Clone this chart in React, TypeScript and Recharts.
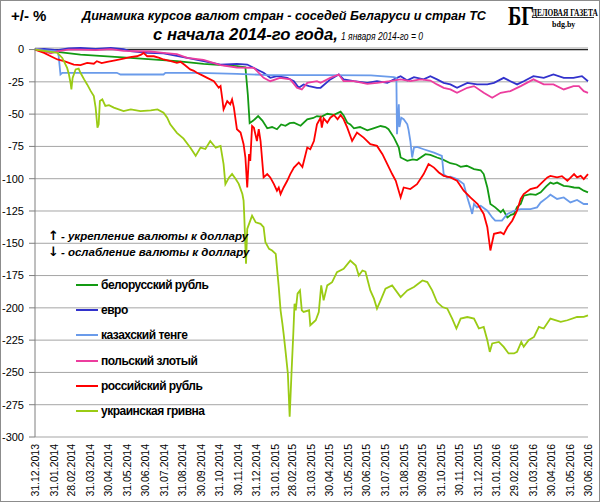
import { LineChart, Line, XAxis, YAxis, CartesianGrid, ReferenceLine, Legend } from 'recharts';

// [days since 31.12.2013, change in % vs 1 Jan 2014]
type Pt = [number, number];

const dateLabels = [
  '31.12.2013', '31.01.2014', '28.02.2014', '31.03.2014', '30.04.2014', '31.05.2014',
  '30.06.2014', '31.07.2014', '31.08.2014', '30.09.2014', '31.10.2014', '30.11.2014',
  '31.12.2014', '31.01.2015', '28.02.2015', '31.03.2015', '30.04.2015', '31.05.2015',
  '30.06.2015', '31.07.2015', '31.08.2015', '30.09.2015', '31.10.2015', '30.11.2015',
  '31.12.2015', '31.01.2016', '29.02.2016', '31.03.2016', '30.04.2016', '31.05.2016',
  '30.06.2016',
];

const yTicks = [0, -25, -50, -75, -100, -125, -150, -175, -200, -225, -250, -275, -300];

const belarusRub: Pt[] = [
  [0, 0], [26, -1.3], [75, -3.9], [157, -6.5], [234, -9], [278, -11.1], [333, -12.9], [347, -13.7],
  [351, -35], [354, -57], [360, -55], [368, -51.5], [375, -55], [383, -61], [391, -60], [399, -61.7],
  [406, -58], [413, -59], [420, -57], [427, -56.6], [438, -59], [449, -54], [459, -53], [465, -51.5],
  [472, -52], [482, -49.7], [493, -50.5], [504, -48.1], [509, -51], [515, -56.6], [520, -58], [526, -61],
  [536, -60], [548, -62.5], [558, -61], [570, -59.2], [578, -60], [583, -61.7], [592, -68.2], [600, -75.9],
  [603, -83.6], [614, -86.2], [623, -85], [630, -85.6], [644, -81], [652, -81.5], [663, -83.6], [672, -85],
  [685, -88], [695, -89], [702, -90.8], [712, -90], [724, -92.6], [735, -93.5], [740, -96.4], [746, -106.8],
  [751, -119.6], [759, -122.2], [768, -126], [772, -124], [779, -130], [785, -128], [790, -127.3], [795, -122],
  [801, -119.6], [806, -113.2], [817, -111.9], [826, -112.5], [834, -110.6], [843, -106], [850, -103],
  [855, -104], [861, -103], [872, -105.5], [880, -106], [889, -106.8], [897, -107], [905, -109.3], [912, -110.6],
];

const euro: Pt[] = [
  [0, 0], [15, 0.5], [37, -0.5], [55, 0.8], [75, 1.2], [100, 0.5], [125, 1.2], [146, 0.3], [157, -1.3],
  [185, -2.5], [212, -3], [223, -3.9], [251, -6.5], [278, -9], [306, -11.6], [333, -11.1], [350, -11.6],
  [366, -15.4], [377, -18], [388, -21.9], [399, -20.6], [416, -21.9], [427, -24.5], [435, -29.6], [443, -27],
  [452, -28.3], [465, -29.6], [471, -29.6], [487, -23.1], [501, -19.3], [509, -23.1], [526, -24.5],
  [548, -25.8], [564, -24.5], [581, -25.8], [597, -21.9], [603, -20.6], [614, -23.9], [625, -21.4],
  [641, -23.1], [652, -20.6], [663, -23.1], [674, -25.8], [685, -27], [696, -29.6], [713, -25.8],
  [729, -27], [746, -27], [757, -25.8], [773, -21.9], [784, -24.5], [795, -27], [806, -24.5], [822, -20.6],
  [839, -21.9], [855, -19.3], [872, -21.9], [888, -21.9], [902, -20.6], [912, -24.5],
];

const tenge: Pt[] = [
  [0, 0], [37, -1.3], [39, -5], [42, -19.3], [45, -18], [80, -18], [135, -18], [141, -19.3], [212, -19.3],
  [215, -18], [270, -18], [333, -18.8], [388, -19.8], [471, -19.8], [554, -20], [592, -21.4], [596, -22],
  [597, -65.6], [600, -42.4], [601, -60], [604, -52.8], [608, -54], [614, -57.9], [616, -62], [619, -70.8],
  [622, -83.6], [625, -75.9], [630, -75.4], [641, -77.2], [658, -79.8], [671, -82.3], [674, -96.4],
  [680, -99], [685, -98.5], [696, -100.3], [707, -104.2], [713, -114.5], [718, -122.2], [721, -127.3],
  [724, -119.6], [729, -122.2], [735, -121], [746, -124.8], [754, -130], [759, -132.5], [770, -132.5],
  [779, -127.3], [790, -124.8], [801, -123.5], [817, -123.5], [828, -122.2], [834, -118.4], [845, -114.5],
  [850, -112.4], [861, -115.7], [872, -114.5], [883, -118.4], [894, -116.5], [905, -119.6], [912, -119.6],
];

const zloty: Pt[] = [
  [0, 0], [15, -1.5], [26, -3], [37, -1.5], [55, 0], [75, 0], [100, -0.5], [125, 0.3], [146, -1],
  [168, -1.3], [190, -1.5], [212, -2.5], [234, -3.5], [251, -6.5], [278, -8], [306, -12.1], [333, -13.9],
  [361, -14.2], [377, -21.9], [388, -24.5], [404, -21.9], [421, -23.1], [432, -29.6], [440, -30.9],
  [449, -25.8], [465, -24.5], [471, -25.8], [487, -21.9], [501, -19.3], [509, -24.5], [526, -24.5],
  [548, -26.5], [564, -25.8], [586, -24.5], [603, -23.1], [619, -24.5], [636, -23.1], [652, -24],
  [663, -27], [674, -29.6], [685, -30.9], [696, -33.5], [713, -29.6], [724, -28.3], [740, -33.5],
  [754, -37.3], [768, -33.5], [784, -32.2], [801, -28.3], [822, -23.1], [839, -27], [855, -27],
  [872, -30.9], [888, -28.3], [897, -28.3], [905, -32.2], [912, -33.5],
];

const russRub: Pt[] = [
  [0, 0], [15, -2.6], [26, -5.2], [37, -7.7], [48, -9], [64, -11.6], [75, -12.1], [86, -10.3], [97, -11],
  [102, -9], [110, -10.5], [119, -9.5], [130, -8.5], [146, -7], [157, -5.9], [168, -5.2], [175, -4],
  [179, -2.6], [185, -5.2], [196, -5.2], [205, -6.5], [212, -7.7], [224, -9], [234, -10.3], [240, -9.5],
  [247, -12], [256, -15.4], [262, -16.5], [267, -18], [276, -20], [284, -21.9], [295, -24.5], [303, -29.6],
  [306, -28.3], [309, -38.6], [311, -46.3], [317, -39.9], [322, -42.4], [325, -38.6], [328, -45],
  [333, -61.7], [339, -64.3], [344, -73.3], [347, -83.6], [350, -106.8], [353, -81], [355, -86.2],
  [358, -59.2], [361, -60.5], [366, -70.8], [369, -61.7], [372, -70.8], [377, -99], [383, -96.4],
  [388, -99], [394, -104.2], [399, -109.3], [402, -106.8], [405, -111.9], [410, -106.8], [416, -101.6],
  [421, -96.4], [427, -91.4], [435, -87.5], [441, -91], [449, -75.9], [454, -77.2], [460, -70.8],
  [465, -57.9], [471, -52.8], [473, -60.5], [476, -53.2], [482, -56.6], [487, -52.8], [493, -50.7],
  [499, -54], [504, -50.7], [509, -54], [515, -60.5], [523, -70.8], [531, -64.3], [542, -68.2],
  [553, -73.3], [564, -74.6], [573, -81], [581, -88.7], [589, -96.4], [595, -101.6], [603, -114.5],
  [608, -106.8], [619, -108], [630, -104.2], [641, -96.4], [649, -88.7], [658, -91.4], [666, -95.2],
  [674, -97.8], [685, -99], [696, -101.6], [707, -109.3], [718, -114.5], [730, -119.6], [740, -127.3],
  [746, -137.6], [751, -155.6], [757, -142.7], [768, -141.5], [773, -143], [779, -137.6], [787, -132.5],
  [795, -124.8], [801, -115.7], [806, -111.9], [817, -108], [828, -106.8], [836, -103], [845, -99],
  [850, -97.8], [861, -99], [869, -98], [878, -101.6], [889, -96.4], [894, -99], [900, -97.8],
  [905, -100.3], [912, -96.4],
];

const hryvnia: Pt[] = [
  [0, 0], [37, -2.6], [45, -6.5], [53, -14.2], [56, -19.3], [59, -27], [60, -30.9], [62, -21.9], [67, -15.4],
  [72, -14.7], [75, -18], [81, -23.1], [86, -27], [92, -32.2], [97, -36], [100, -45], [103, -60.5],
  [105, -57.9], [107, -39.9], [111, -38.6], [116, -43.7], [122, -43], [130, -45], [146, -47.6],
  [158, -46.3], [174, -47.6], [191, -47.1], [202, -46.3], [212, -48.9], [218, -52.8], [223, -57.9],
  [234, -64.5], [245, -69], [256, -75.9], [265, -82.3], [273, -75.9], [281, -77], [289, -70.8], [298, -76],
  [306, -74.6], [311, -88.7], [314, -104.2], [320, -99], [325, -96.4], [331, -100.3], [336, -104],
  [342, -111.9], [344, -117], [345, -127.3], [348, -165.9], [350, -138.9], [355, -132.5], [358, -128.6],
  [364, -133.8], [372, -135], [377, -137.6], [380, -149.2], [386, -154.3], [391, -155.6], [397, -158.2],
  [399, -168.5], [402, -183.9], [405, -201.9], [408, -212.2], [410, -219.9], [413, -232.8], [417, -250.8],
  [420, -284.3], [423, -250.8], [426, -219.9], [428, -196.8], [430, -201.9], [433, -189], [437, -186.5],
  [440, -201.9], [443, -203.2], [452, -201.9], [454, -213.5], [463, -209.6], [468, -203.2], [472, -182.6],
  [476, -194.2], [482, -182.6], [490, -180.1], [498, -172.4], [509, -169.8], [520, -163.4], [529, -167.2],
  [534, -174.9], [540, -171.1], [545, -172], [553, -186.5], [559, -192.9], [564, -200.6], [570, -194.2],
  [578, -185.2], [589, -182.6], [603, -191.7], [614, -186.5], [625, -183.9], [639, -178.8], [647, -180],
  [655, -186.5], [663, -195.5], [672, -199.4], [680, -200.6], [688, -208.3], [695, -216], [702, -208.3],
  [713, -207.1], [724, -208.3], [732, -216], [740, -214.8], [746, -225.1], [750, -234.1], [754, -227.6],
  [765, -226.4], [773, -230.2], [781, -235.3], [790, -235.3], [795, -234], [802, -226.4], [806, -230.2],
  [814, -225.1], [823, -222.5], [831, -214.8], [839, -216], [850, -208.3], [867, -210.9], [878, -209.6],
  [894, -207.1], [905, -207], [912, -205.8],
];

const seriesList = [
  { key: 'byr', name: 'белорусский рубль', color: '#139a13', points: belarusRub },
  { key: 'eur', name: 'евро', color: '#3232cc', points: euro },
  { key: 'kzt', name: 'казахский тенге', color: '#6a9bea', points: tenge },
  { key: 'pln', name: 'польский злотый', color: '#ec3d9e', points: zloty },
  { key: 'rub', name: 'российский рубль', color: '#ff0000', points: russRub },
  { key: 'uah', name: 'украинская гривна', color: '#9acb14', points: hryvnia },
];

const FONT = "'Liberation Sans', Arial, sans-serif";
const SERIF = "'Liberation Serif', serif";

const toDay = (s: string) => {
  const [d, m, y] = s.split('.').map(Number);
  return Math.round((Date.UTC(y, m - 1, d) - Date.UTC(2013, 11, 31)) / 86400000);
};
const xTicks = dateLabels.map(toDay);
const labelByDay = new Map(xTicks.map((d, i) => [d, dateLabels[i]]));

const DateTick = (props: any) => {
  const { x, y, payload } = props;
  const tx = x + 4;
  return (
    <text x={tx} y={y} transform={`rotate(-90 ${tx} ${y})`} textAnchor="end"
      fontSize={10.5} fontFamily={FONT} fill="#000">
      {labelByDay.get(payload.value)}
    </text>
  );
};

const LegendBox = (props: any) => {
  const items = props.payload || [];
  return (
    <div style={{ fontFamily: FONT, fontWeight: 'bold', fontSize: 12, letterSpacing: -0.5 }}>
      {items.map((it: any) => (
        <div key={it.value} style={{ height: 25.3, display: 'flex', alignItems: 'center' }}>
          <span style={{ display: 'inline-block', width: 22, height: 2, background: it.color, marginRight: 3 }} />
          <span>{it.value}</span>
        </div>
      ))}
    </div>
  );
};

export default function App() {
  return (
    <div style={{ position: 'absolute', left: 0, top: 0, width: 600, height: 502, background: '#fff' }}>
      <LineChart width={600} height={502} margin={{ top: 48, right: 12, bottom: 0, left: 0 }}>
        <CartesianGrid vertical={false} stroke="#a5a5a5" />
        <XAxis dataKey="day" type="number" domain={[0, 912]} ticks={xTicks} interval={0}
          height={65} axisLine={false} tickLine={false} tickSize={0} tickMargin={7} tick={<DateTick />} />
        <YAxis type="number" domain={[-300, 0]} ticks={yTicks} interval={0} width={35}
          axisLine={{ stroke: '#7f7f7f' }} tickLine={{ stroke: '#7f7f7f' }} tickSize={6} tickMargin={5}
          tick={{ fontSize: 11, fill: '#000', fontFamily: FONT }} />
        <ReferenceLine y={0} stroke="#262626" strokeWidth={1.2} />
        {seriesList.map((s) => (
          <Line key={s.key} data={s.points.map(([day, v]) => ({ day, v }))} dataKey="v" name={s.name}
            stroke={s.color} strokeWidth={1.8} dot={false} activeDot={false} isAnimationActive={false} />
        ))}
        <Legend layout="horizontal" verticalAlign="middle" align="center" content={<LegendBox />}
          wrapperStyle={{ position: 'absolute', left: 76, top: 272, width: 160, height: 155 }} />
      </LineChart>
      <svg width={600} height={502} style={{ position: 'absolute', left: 0, top: 0, pointerEvents: 'none' }}>
        <rect x={0.5} y={0.5} width={599} height={501} fill="none" stroke="#8c8c8c" />
        <text x={11} y={21} fontFamily={FONT} fontWeight="bold" fontSize={15}>+/- %</text>
        <text x={82} y={20} fontFamily={FONT} fontWeight="bold" fontStyle="italic" fontSize={13.5}
          textLength={404} lengthAdjust="spacingAndGlyphs">
          Динамика  курсов  валют  стран - соседей  Беларуси  и  стран ТС
        </text>
        <text x={153} y={40} fontFamily={FONT} fontWeight="bold" fontStyle="italic" fontSize={16.5}
          textLength={185} lengthAdjust="spacingAndGlyphs">
          с начала 2014-го года,
        </text>
        <text x={341} y={40} fontFamily={FONT} fontStyle="italic" fontSize={11}
          textLength={82} lengthAdjust="spacingAndGlyphs">
          1 января 2014-го  = 0
        </text>
        <text transform="translate(508 25) scale(0.72 1)" fontFamily={SERIF} fontWeight="bold" fontSize={28}>БГ</text>
        <text transform="translate(532 16) scale(0.74 1)" fontFamily={SERIF} fontWeight="bold" fontSize={10}>ДЕЛОВАЯ ГАЗЕТА</text>
        <line x1={532} y1={17.5} x2={594} y2={17.5} stroke="#000" strokeWidth={0.8} />
        <text x={552} y={27} fontFamily={SERIF} fontWeight="bold" fontSize={8}>bdg.by</text>
        <text x={48} y={240} fontFamily={FONT} fontWeight="bold" fontStyle="italic" fontSize={11.5}>
          <tspan fontFamily="'DejaVu Sans', sans-serif" fontStyle="normal" fontSize={13}>↑</tspan>
          <tspan dx={2}>- укрепление валюты к доллару</tspan>
        </text>
        <text x={48} y={256} fontFamily={FONT} fontWeight="bold" fontStyle="italic" fontSize={11.5}>
          <tspan fontFamily="'DejaVu Sans', sans-serif" fontStyle="normal" fontSize={13}>↓</tspan>
          <tspan dx={2}>- ослабление валюты к доллару</tspan>
        </text>
      </svg>
    </div>
  );
}
